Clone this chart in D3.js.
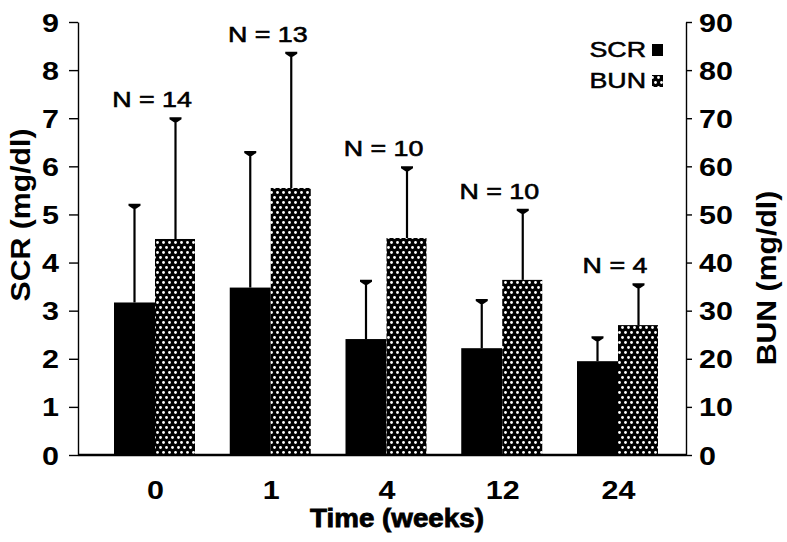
<!DOCTYPE html>
<html><head><meta charset="utf-8">
<script src="https://cdn.jsdelivr.net/npm/d3@7"></script>
<style>
html,body{margin:0;padding:0;background:#fff;}
svg{display:block;}
text{font-family:"Liberation Sans",Arial,Helvetica,sans-serif;fill:#000;}
</style></head>
<body><svg id="chart" width="787" height="542"></svg>
<script>
const categories = ["0", "1", "4", "12", "24"];
const nLabels = ["N = 14", "N = 13", "N = 10", "N = 10", "N = 4"];
const scrMean = [3.17, 3.48, 2.41, 2.22, 1.95];
const scrErrTop = [5.2, 6.3, 3.62, 3.22, 2.45];
const bunMean = [44.9, 55.5, 45.1, 36.4, 27.0];
const bunErrTop = [70, 83.6, 59.8, 51.0, 35.5];
const scrTicks = [0, 1, 2, 3, 4, 5, 6, 7, 8, 9];
const bunTicks = [0, 10, 20, 30, 40, 50, 60, 70, 80, 90];
const legendLabels = ["SCR", "BUN"];

const svg = d3.select("#chart");
svg.append("rect").attr("width", 787).attr("height", 542).attr("fill", "#fff");

const defs = svg.append("defs");
const pat = defs.append("pattern").attr("id", "dots")
  .attr("patternUnits", "userSpaceOnUse").attr("width", 6).attr("height", 10);
pat.append("rect").attr("width", 6).attr("height", 10).attr("fill", "#000");
pat.append("circle").attr("cx", 1.5).attr("cy", 2.5).attr("r", 1.4).attr("fill", "#fff");
pat.append("circle").attr("cx", 4.5).attr("cy", 7.5).attr("r", 1.4).attr("fill", "#fff");

const xL = 78, xR = 686, yBase = 455, yTop = 22;
const yL = d3.scaleLinear().domain([0, 9]).range([yBase, yTop]);
const yR = d3.scaleLinear().domain([0, 90]).range([yBase, yTop]);
const x = d3.scalePoint().domain(categories).range([155, 618]);
const bw = 41;
const SX = 1.22;

// bars
const g = svg.append("g");
categories.forEach((c, i) => {
  const cx = x(c);
  g.append("rect").attr("x", cx - bw).attr("y", yL(scrMean[i]))
    .attr("width", bw).attr("height", yBase - yL(scrMean[i])).attr("fill", "#000");
  g.append("rect").attr("x", cx).attr("y", yR(bunMean[i]))
    .attr("width", bw - 1).attr("height", yBase - yR(bunMean[i])).attr("fill", "url(#dots)");
});

function errBar(ex, y0, y1) {
  g.append("line").attr("x1", ex).attr("x2", ex).attr("y1", y0).attr("y2", y1)
    .attr("stroke", "#000").attr("stroke-width", 2.2);
  g.append("path")
    .attr("d", `M${ex - 6},${y1 - 1} L${ex + 6},${y1 - 1} L${ex + 6},${y1 + 1} L${ex + 1.5},${y1 + 4} L${ex - 1.5},${y1 + 4} L${ex - 6},${y1 + 1} Z`)
    .attr("fill", "#000");
}
categories.forEach((c, i) => {
  const cx = x(c);
  errBar(cx - bw / 2, yL(scrMean[i]), yL(scrErrTop[i]));
  errBar(cx + bw / 2, yR(bunMean[i]), yR(bunErrTop[i]));
});

// N labels
categories.forEach((c, i) => {
  const top = Math.min(yL(scrErrTop[i]), yR(bunErrTop[i]));
  svg.append("text")
    .attr("transform", `translate(${x(c) - 3},${top - 11}) scale(${SX},1)`)
    .attr("text-anchor", "middle").attr("font-size", 22)
    .attr("stroke", "#000").attr("stroke-width", 0.6)
    .text(nLabels[i]);
});

// baseline
svg.append("line").attr("x1", xL).attr("x2", xR).attr("y1", yBase).attr("y2", yBase)
  .attr("stroke", "#000").attr("stroke-width", 2.5);

// left axis
const axL = svg.append("g").attr("transform", `translate(${xL},0)`)
  .call(d3.axisLeft(yL).tickValues(scrTicks).tickSize(9).tickSizeOuter(0).tickPadding(9));
axL.select(".domain").attr("stroke-width", 1.4);
axL.selectAll(".tick line").attr("stroke-width", 1.4);
axL.selectAll(".tick text").attr("x", null).attr("dy", "0.36em")
  .attr("transform", `translate(-19,0) scale(${SX},1)`)
  .attr("font-size", 25).attr("font-weight", "bold").attr("font-family", null);

// right axis
const axR = svg.append("g").attr("transform", `translate(${xR},0)`)
  .call(d3.axisRight(yR).tickValues(bunTicks).tickSize(6).tickSizeOuter(0).tickPadding(7));
axR.select(".domain").attr("stroke-width", 1.4);
axR.selectAll(".tick line").attr("stroke-width", 1.4);
axR.selectAll(".tick text").attr("x", null).attr("dy", "0.36em")
  .attr("transform", `translate(13,0) scale(${SX},1)`)
  .attr("font-size", 25).attr("font-weight", "bold").attr("font-family", null);

// bottom axis labels
const axB = svg.append("g").attr("transform", `translate(0,${yBase})`)
  .call(d3.axisBottom(x).tickSize(0).tickPadding(27));
axB.select(".domain").remove();
axB.selectAll(".tick text").attr("y", null).attr("dy", null)
  .attr("transform", `translate(0,44) scale(${SX},1)`)
  .attr("font-size", 25).attr("font-weight", "bold").attr("font-family", null);

// axis titles
svg.append("text")
  .attr("transform", `translate(30,215) rotate(-90) scale(1.12,1)`)
  .attr("text-anchor", "middle").attr("font-size", 27).attr("font-weight", "bold")
  .text("SCR (mg/dl)");
svg.append("text")
  .attr("transform", `translate(776,278) rotate(-90) scale(1.12,1)`)
  .attr("text-anchor", "middle").attr("font-size", 27).attr("font-weight", "bold")
  .text("BUN (mg/dl)");
svg.append("text")
  .attr("transform", `translate(397,527) scale(1.11,1)`)
  .attr("text-anchor", "middle").attr("font-size", 25).attr("font-weight", "bold")
  .attr("stroke", "#000").attr("stroke-width", 0.8)
  .text("Time (weeks)");

// legend
const legFills = ["#000", "url(#dots)"];
const legY = [57, 88];
legendLabels.forEach((lab, i) => {
  svg.append("text")
    .attr("transform", `translate(646,${legY[i]}) scale(${SX},1)`)
    .attr("text-anchor", "end").attr("font-size", 22)
    .attr("stroke", "#000").attr("stroke-width", 0.5)
    .text(lab);
  svg.append("rect").attr("x", 652).attr("y", legY[i] - 13).attr("width", 11).attr("height", 12)
    .attr("fill", legFills[i]);
});
</script></body></html>
